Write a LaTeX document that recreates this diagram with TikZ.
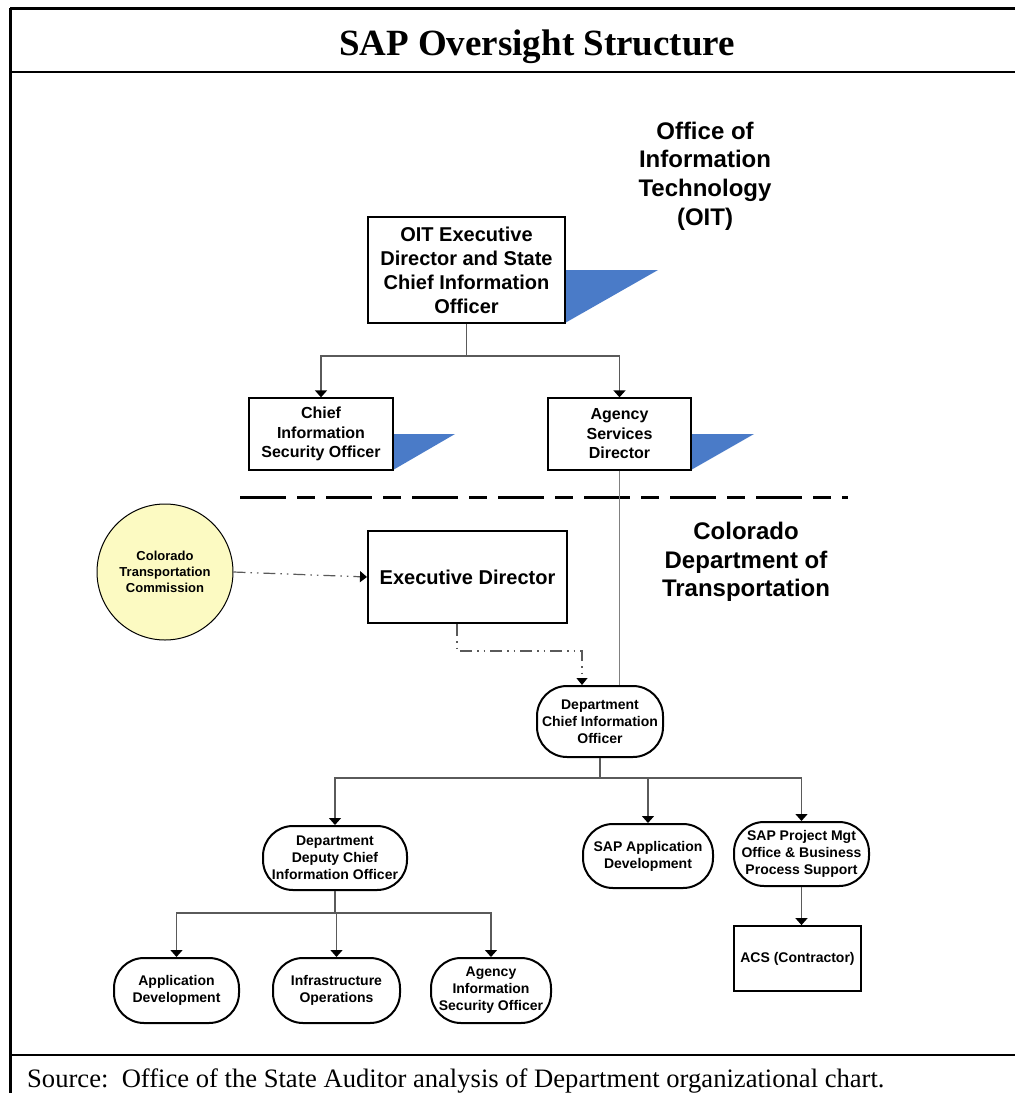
\documentclass[tikz,border=0pt]{standalone}
\usepackage{fontspec}
\setmainfont{Liberation Sans}
\newfontfamily\seriffam{Liberation Serif}
\usetikzlibrary{arrows.meta}
\definecolor{flagblue}{HTML}{4A7BC8}
\definecolor{paleyellow}{HTML}{FCFAC2}
\definecolor{conncol}{HTML}{5A5A5A}
\begin{document}
\begin{tikzpicture}[x=1pt,y=-1pt,
  txtS/.style={font=\bfseries\fontsize{14}{17}\selectfont},
  txtM/.style={font=\bfseries\fontsize{16}{19.5}\selectfont},
  txtL/.style={font=\bfseries\fontsize{20}{24}\selectfont},
  txtH/.style={font=\bfseries\fontsize{24}{28.7}\selectfont},
  rbox/.style={draw, line width=1.3pt, fill=white, align=center, inner sep=0pt},
  obox/.style={draw, line width=2pt, fill=white, align=center, inner sep=0pt, rounded corners=30pt, txtS},
  conn/.style={draw=conncol, line width=1.4pt},
  arr/.style={conn, -{Triangle[width=12pt,length=7pt,black]}},
  dda/.style={draw=conncol, line width=1.2pt, dash pattern=on 12pt off 5pt on 1.5pt off 5pt on 1.5pt off 5pt, -{Triangle[width=11pt,length=7pt,black]}},
  flag/.style={fill=flagblue, draw=none}
]
\useasboundingbox (0,0) rectangle (1015,1093);
% frame
\draw[line width=3pt] (10,8) -- (1015,8);
\draw[line width=3pt] (10,8) -- (10,1093);
\draw[line width=2.5pt] (10,72) -- (1015,72);
\draw[line width=2.5pt] (10,1055) -- (1015,1055);
\node[anchor=base, font=\seriffam\bfseries\fontsize{37}{40}\selectfont] (title) at (537,55) {SAP Oversight Structure};
\node[anchor=base west, font=\seriffam\fontsize{26.6}{30}\selectfont, inner sep=0pt] (src) at (27,1087) {Source:\ \ Office of the State Auditor analysis of Department organizational chart.};

% section labels
\node[txtH, align=center] (oitlab) at (705,176) {Office of\\Information\\Technology\\(OIT)};
\node[txtH, align=center] (cdotlab) at (746,562) {Colorado\\Department of\\Transportation};

% flags
\fill[flag] (565,270) -- (658,270) -- (565,323) -- cycle;
\fill[flag] (393,434) -- (455,434) -- (393,470) -- cycle;
\fill[flag] (691,434) -- (754,434) -- (691,470) -- cycle;

% OIT boxes
\node[rbox, txtL, minimum width=197pt, minimum height=106pt] (oit) at (466.5,270) {OIT Executive\\Director and State\\Chief Information\\Officer};
\node[rbox, txtM, minimum width=144pt, minimum height=72pt] (ciso) at (321,434) {Chief\\Information\\Security Officer};
\node[rbox, txtM, minimum width=143pt, minimum height=72pt] (asd) at (619.5,434) {Agency\\Services\\Director};

\coordinate (j1) at (466.5,356);
\draw[conn] (oit.south) -- (j1);
\draw[arr] (j1) -| (ciso.north);
\draw[arr] (j1) -| (asd.north);

% divider
\coordinate (d1) at (240,497);
\coordinate (d2) at (848,497);
\draw[line width=3pt, dash pattern=on 46pt off 11pt on 18pt off 11pt] (d1) -- (d2);

% CDOT
\node[circle, draw, line width=1pt, fill=paleyellow, minimum size=136pt, inner sep=0pt, align=center, font=\bfseries\fontsize{13}{16}\selectfont] (ctc) at (165,572) {Colorado\\Transportation\\Commission};
\node[rbox, txtL, line width=2pt, minimum width=199pt, minimum height=92pt] (ed) at (467.5,577) {Executive Director};
\node[obox, minimum width=126pt, minimum height=71pt] (dcio) at (600,721.5) {Department\\Chief Information\\Officer};

\draw[conn, draw=black!50, line width=1.2pt] (asd.south) -- (asd.south |- dcio.north);
\draw[dda] (ctc.east) -- (ed.west);
\coordinate (e1) at (457,651);
\coordinate (e2) at (582,651);
\draw[dda] (ed.south -| e1) -- (e1) -- (e2) -- (e2 |- dcio.north);

\node[obox, minimum width=144pt, minimum height=64pt] (dep) at (335,858) {Department\\Deputy Chief\\Information Officer};
\node[obox, minimum width=130pt, minimum height=64pt] (sapd) at (648,856) {SAP Application\\Development};
\node[obox, minimum width=135pt, minimum height=64pt] (pmo) at (801.5,854) {SAP Project Mgt\\Office \& Business\\Process Support};
\node[rbox, txtS, line width=1.8pt, minimum width=127pt, minimum height=65pt] (acs) at (797.5,958.5) {ACS (Contractor)};

\coordinate (j2) at (600,778);
\draw[conn] (dcio.south) -- (j2);
\draw[arr] (j2) -| (dep.north);
\draw[arr] (j2) -| (sapd.north);
\draw[arr] (j2) -| (pmo.north);
\draw[arr] (pmo.south) -- (pmo.south |- acs.north);

\node[obox, minimum width=125pt, minimum height=65pt] (appd) at (176.5,990.5) {Application\\Development};
\node[obox, minimum width=127pt, minimum height=65pt] (infra) at (336.5,990.5) {Infrastructure\\Operations};
\node[obox, minimum width=120pt, minimum height=65pt] (aiso) at (491,990.5) {Agency\\Information\\Security Officer};

\coordinate (j3) at (335,913);
\draw[conn] (dep.south) -- (j3);
\draw[arr] (j3) -| (appd.north);
\draw[arr] (j3) -| (infra.north);
\draw[arr] (j3) -| (aiso.north);
\end{tikzpicture}
\end{document}
